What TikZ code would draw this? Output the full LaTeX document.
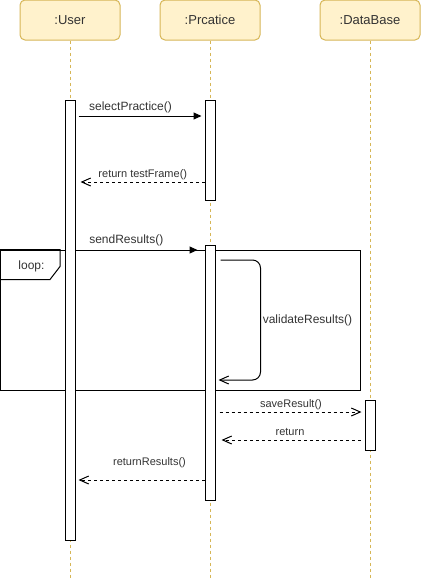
\documentclass[tikz,border=0pt]{standalone}
\usepackage{fontspec}
\setmainfont{Liberation Sans}
\usetikzlibrary{arrows.meta}
\definecolor{myfill}{HTML}{FFF2CC}
\definecolor{mygold}{HTML}{D6B656}
\definecolor{mytext}{HTML}{333333}

\begin{document}
\begin{tikzpicture}[x=1pt, y=-1pt, line width=1pt,
    head/.style={draw=mygold, fill=myfill, rounded corners=5pt, inner sep=0pt,
      minimum width=100pt, minimum height=40pt, text=mytext,
      font=\fontsize{13}{15}\selectfont},
    bar/.style={draw, fill=white, minimum width=10pt, inner sep=0pt},
    life/.style={draw=mygold, dash pattern=on 3pt off 3pt},
    big/.style={text=mytext, inner sep=0pt, font=\fontsize{12}{14}\selectfont},
    small/.style={text=mytext, inner sep=0pt, font=\fontsize{11}{13}\selectfont},
    call/.style={-{Triangle[length=8pt,width=7pt]}, shorten <=3pt, shorten >=3pt},
    ret/.style={dash pattern=on 3pt off 3pt,
      -{Straight Barb[length=9pt,width=8pt]}, shorten >=5pt}]

    \useasboundingbox (0,0) rectangle (421,581);

    % 生命线头部
    \node[head] (user) at (70,20) {:User};
    \node[head] (prac) at (210,20) {:Prcatice};
    \node[head] (db)   at (370,20) {:DataBase};

    % 虚线生命线
    \foreach \n/\x in {user/70, prac/210, db/370}{
        \coordinate (\n end) at (\x,578);
        \draw[life] (\n) -- (\n end);
    }

    % loop 框
    \node[draw, minimum width=359.5pt, minimum height=140pt, inner sep=0pt]
      (loop) at (180.25,320) {};
    \draw (loop.north west) -- ++(60,0) -- ++(0,17) -- ++(-10,13) -- ++(-50,0);
    \node[big] (looplbl) at (31.5,266) {loop:};

    % 激活条
    \node[bar, minimum height=440pt] (uact)  at (70,320) {};
    \node[bar, minimum height=100pt] (pact1) at (210,150) {};
    \node[bar, minimum height=255pt] (pact2) at (210,372.5) {};
    \node[bar, minimum height=50pt]  (dact)  at (370,425) {};

    % 消息的高度
    \foreach \n/\y in {m1/116, m2/182, m3/250, m4/260, m5/380,
                       m6/412, m7/440, m8/480}{
        \coordinate (\n) at (0,\y);
    }

    \draw[call] (uact.east |- m1) -- (pact1.west |- m1);
    \node[big] (l1) at (130.5,107) {selectPractice()};

    \draw[ret] (pact1.west |- m2) -- (uact.east |- m2);
    \node[small] (l2) at (142.8,174.5) {return testFrame()};

    \draw[call, shorten <=0pt, shorten >=7pt] (uact.east |- m3) -- (pact2.west |- m3);
    \node[big] (l3) at (126.3,240) {sendResults()};

    % 自调用
    \draw[-{Straight Barb[length=9pt,width=8pt]}, rounded corners=8pt]
      ([xshift=5pt]pact2.east |- m4) -- ++(40,0) -- ++(0,120)
      -- ([xshift=3pt]pact2.east |- m5);
    \node[big, anchor=west] (l4) at (262.3,320) {validateResults()};

    \draw[ret, shorten <=4pt, shorten >=3pt] (pact2.east |- m6) -- (dact.west |- m6);
    \node[small] (l6) at (291,404.5) {saveResult()};

    \draw[ret, shorten <=4pt, shorten >=6pt] (dact.west |- m7) -- (pact2.east |- m7);
    \node[small] (l7) at (290,432) {return};

    \draw[ret, shorten >=3pt] (pact2.west |- m8) -- (uact.east |- m8);
    \node[small] (l8) at (149.5,462.5) {returnResults()};

\end{tikzpicture}
\end{document}
